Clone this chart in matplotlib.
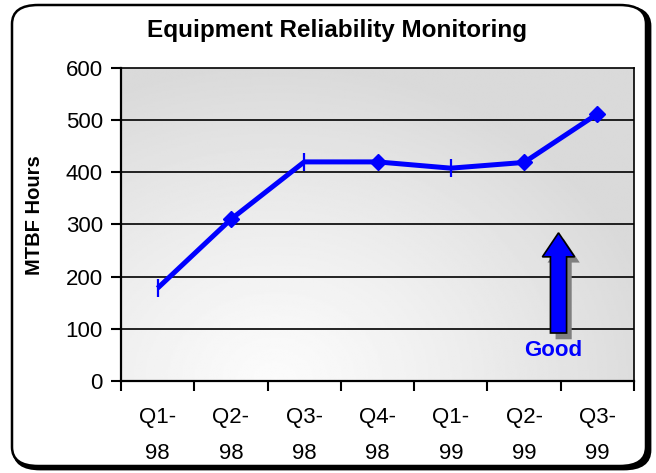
import numpy as np
import matplotlib.pyplot as plt
from matplotlib.patches import FancyBboxPatch, FancyArrow

plt.rcParams['font.family'] = ['Liberation Sans', 'DejaVu Sans']

quarters = ['Q1-\n98', 'Q2-\n98', 'Q3-\n98', 'Q4-\n98', 'Q1-\n99', 'Q2-\n99', 'Q3-\n99']
mtbf = [178, 310, 420, 420, 408, 419, 512]
markers = ['|', 'D', '|', 'D', '|', 'D', 'D']

fig = plt.figure(figsize=(6.56, 4.73), dpi=100)

# rounded frame with shadow
shadow = FancyBboxPatch((14 / 656, 4 / 473), 636 / 656, 462 / 473,
                        boxstyle="round,pad=0,rounding_size=0.04",
                        transform=fig.transFigure, facecolor='black',
                        edgecolor='black', lw=2, zorder=0)
frame = FancyBboxPatch((12 / 656, 7 / 473), 634 / 656, 461 / 473,
                       boxstyle="round,pad=0,rounding_size=0.04",
                       transform=fig.transFigure, facecolor='white',
                       edgecolor='black', lw=1.8, zorder=1)
fig.patches.extend([shadow, frame])

ax = fig.add_axes([121 / 656, 92 / 473, 513 / 656, 313 / 473])
ax.set_zorder(2)
ax.patch.set_visible(False)

# gradient background of the plot area
gx, gy = np.meshgrid(np.linspace(0, 1, 300), np.linspace(0, 1, 200))
d = np.sqrt(((gx - 0.3) / 0.75) ** 2 + (gy / 1.0) ** 2)
d = np.clip(d, 0, 1)
shade = 0.985 - (0.985 - 0.855) * d ** 1.2
ax.imshow(shade, cmap='gray', vmin=0, vmax=1, origin='lower',
          extent=[0, 1, 0, 1], transform=ax.transAxes, aspect='auto', zorder=0)

x = np.arange(len(quarters))
ax.set_xlim(-0.5, len(quarters) - 0.5)
ax.set_ylim(0, 600)
ax.set_yticks(range(0, 601, 100))
for yv in range(100, 600, 100):
    ax.axhline(yv, color='black', lw=1.2, zorder=1)

ax.plot(x, mtbf, color='#0000ff', lw=3.6, zorder=3, solid_capstyle='butt')
for xi, yi, m in zip(x, mtbf, markers):
    if m == '|':
        ax.plot(xi, yi, marker='|', ms=13, mew=1.6, color='#0000ff', zorder=4)
    else:
        ax.plot(xi, yi, marker='D', ms=8.5, color='#0000ff', zorder=4)

# "Good" arrow with shadow
ax.add_patch(FancyArrow(5.54, 80, 0, 193, width=0.22, head_width=0.44,
                        head_length=46, length_includes_head=True,
                        facecolor='#808080', edgecolor='none', zorder=2))
ax.add_patch(FancyArrow(5.47, 92, 0, 192, width=0.22, head_width=0.44,
                        head_length=46, length_includes_head=True,
                        facecolor='#0000ff', edgecolor='black', lw=1.2, zorder=3))
ax.text(5.4, 58, 'Good', color='#0000ff', fontsize=16, fontweight='bold',
        ha='center', va='center', zorder=4)

ax.set_xticks(x)
ax.set_xticklabels(quarters, fontsize=16, linespacing=1.9)
ax.set_xticks(np.arange(-0.5, len(quarters), 1), minor=True)
ax.tick_params(axis='x', which='major', length=0, pad=19)
ax.tick_params(axis='x', which='minor', length=7, width=1.5, direction='out')
ax.tick_params(axis='y', labelsize=16, length=7, width=1.5, direction='out', pad=6)

for s in ax.spines.values():
    s.set_linewidth(1.2)
ax.spines['left'].set_linewidth(1.6)
ax.spines['bottom'].set_linewidth(1.6)

ax.set_ylabel('MTBF Hours', fontsize=14.5, fontweight='bold')
ax.yaxis.set_label_coords(-0.15, 0.53)
fig.text(337 / 656, 1 - 30 / 473, 'Equipment Reliability Monitoring',
         fontsize=17.5, fontweight='bold', ha='center', va='center', zorder=3)

fig.savefig('out.png', dpi=100)
